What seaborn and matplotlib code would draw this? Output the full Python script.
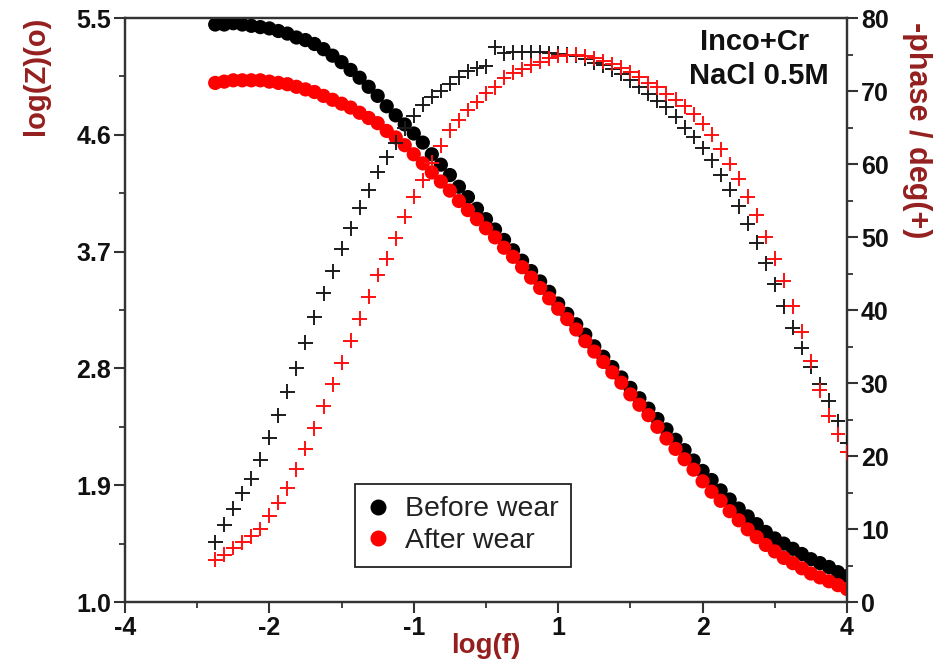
import matplotlib
matplotlib.use("Agg")
import matplotlib.pyplot as plt
from matplotlib.lines import Line2D
from matplotlib.ticker import FuncFormatter
import pandas as pd
import seaborn as sns

# Frequency sweep (axis units) and measured EIS response
log_f = [-3.0, -2.9, -2.8, -2.7, -2.6, -2.5, -2.4, -2.3, -2.2, -2.1,
         -2.0, -1.9, -1.8, -1.7, -1.6, -1.5, -1.4, -1.3, -1.2, -1.1,
         -1.0, -0.9, -0.8, -0.7, -0.6, -0.5, -0.4, -0.3, -0.2, -0.1,
         0.0, 0.1, 0.2, 0.3, 0.4, 0.5, 0.6, 0.7, 0.8, 0.9,
         1.0, 1.1, 1.2, 1.3, 1.4, 1.5, 1.6, 1.7, 1.8, 1.9,
         2.0, 2.1, 2.2, 2.3, 2.4, 2.5, 2.6, 2.7, 2.8, 2.9,
         3.0, 3.1, 3.2, 3.3, 3.4, 3.5, 3.6, 3.7, 3.8, 3.9, 4.0]

logz_before = [5.45, 5.45, 5.46, 5.45, 5.44, 5.43, 5.42, 5.40, 5.38, 5.35,
               5.33, 5.30, 5.26, 5.21, 5.16, 5.10, 5.04, 4.97, 4.90, 4.82,
               4.75, 4.68, 4.61, 4.54, 4.45, 4.37, 4.29, 4.20, 4.12, 4.03,
               3.95, 3.87, 3.79, 3.71, 3.63, 3.55, 3.47, 3.39, 3.30, 3.22,
               3.14, 3.06, 2.97, 2.89, 2.81, 2.73, 2.65, 2.57, 2.49, 2.41,
               2.33, 2.25, 2.17, 2.09, 2.01, 1.94, 1.86, 1.79, 1.72, 1.66,
               1.60, 1.54, 1.49, 1.45, 1.41, 1.37, 1.33, 1.30, 1.27, 1.23, 1.20]

logz_after = [5.00, 5.01, 5.02, 5.02, 5.02, 5.02, 5.01, 5.00, 4.99, 4.97,
              4.95, 4.93, 4.90, 4.87, 4.84, 4.81, 4.77, 4.73, 4.69, 4.63,
              4.58, 4.52, 4.45, 4.38, 4.31, 4.24, 4.17, 4.09, 4.02, 3.95,
              3.88, 3.81, 3.73, 3.66, 3.58, 3.50, 3.42, 3.34, 3.26, 3.18,
              3.10, 3.01, 2.93, 2.85, 2.77, 2.69, 2.60, 2.52, 2.44, 2.35,
              2.26, 2.18, 2.10, 2.02, 1.93, 1.85, 1.78, 1.70, 1.63, 1.56,
              1.50, 1.44, 1.39, 1.34, 1.30, 1.26, 1.22, 1.19, 1.16, 1.13, 1.10]

phase_before = [8.2, 10.6, 12.8, 14.9, 16.9, 19.5, 22.5, 25.6, 28.8, 32.0,
                35.5, 39.0, 42.3, 45.3, 48.4, 51.2, 54.0, 56.4, 58.9, 60.9,
                62.9, 64.9, 66.6, 68.1, 69.2, 70.0, 71.0, 71.9, 72.7, 73.1,
                73.4, 76.0, 75.2, 75.3, 75.3, 75.3, 75.3, 75.2, 75.1, 75.0,
                74.8, 74.4, 73.9, 73.5, 73.0, 72.4, 71.5, 70.6, 69.6, 68.7,
                67.8, 66.5, 65.0, 63.7, 62.2, 60.5, 58.5, 56.5, 54.2, 51.8,
                49.2, 46.4, 43.5, 40.5, 37.6, 34.8, 32.2, 29.8, 27.6, 24.8, 21.8]

phase_after = [5.8, 6.5, 7.4, 8.2, 9.0, 10.0, 11.8, 13.6, 15.6, 18.2,
               21.0, 23.8, 26.8, 29.8, 32.8, 35.8, 38.8, 41.8, 44.8, 47.0,
               49.8, 52.8, 55.5, 57.8, 60.2, 62.5, 64.6, 66.0, 67.4, 68.5,
               69.7, 70.5, 71.8, 72.5, 73.0, 73.5, 74.0, 74.5, 74.8, 74.9,
               75.0, 74.8, 74.5, 74.1, 73.7, 73.2, 72.6, 71.9, 71.1, 70.5,
               69.6, 68.8, 67.9, 66.8, 65.5, 64.0, 62.0, 60.0, 58.0, 55.5,
               53.0, 50.0, 47.0, 44.0, 40.5, 37.0, 33.0, 29.0, 25.5, 23.0, 20.5]

samples = ["Before wear", "After wear"]
x_ticks = [-4.0, -2.4, -0.8, 0.8, 2.4, 4.0]
x_minor = [-3.2, -1.6, 0.0, 1.6, 3.2]
z_ticks = [1.0, 1.9, 2.8, 3.7, 4.6, 5.5]
z_minor = [1.45, 2.35, 3.25, 4.15, 5.05]
p_ticks = [0, 10, 20, 30, 40, 50, 60, 70, 80]
p_minor = [5, 15, 25, 35, 45, 55, 65, 75]

df = pd.DataFrame({
    "log_f": log_f * 2,
    "logZ": logz_before + logz_after,
    "phase": phase_before + phase_after,
    "sample": [samples[0]] * len(log_f) + [samples[1]] * len(log_f),
})

sns.set_theme(style="white")
plt.rcParams["font.family"] = ["Liberation Sans", "DejaVu Sans"]
plt.rcParams["axes.unicode_minus"] = False

label_red = "#951f1f"
axis_col = "#333333"
dot_pal = {"Before wear": "black", "After wear": "#ff0000"}
plus_pal = {"Before wear": "#1c1c1c", "After wear": "#ff1010"}

fig = plt.figure(figsize=(9.41, 6.65), dpi=100)
ax = fig.add_axes([0.1328, 0.0947, 0.7673, 0.8782])
ax2 = ax.twinx()

sns.scatterplot(data=df, x="log_f", y="logZ", hue="sample", hue_order=samples,
                palette=dot_pal, s=105, linewidth=0, legend=False, ax=ax,
                zorder=3)
sns.scatterplot(data=df, x="log_f", y="phase", hue="sample", hue_order=samples,
                palette=plus_pal, marker="+", s=115, linewidth=1.4,
                legend=False, ax=ax2, zorder=3)

ax.set_xlim(-4, 4)
ax.set_ylim(1.0, 5.5)
ax2.set_ylim(0, 80)

ax.set_xticks(x_ticks)
ax.set_xticks(x_minor, minor=True)
ax.xaxis.set_major_formatter(FuncFormatter(lambda v, p: f"{v:.0f}"))
ax.set_yticks(z_ticks)
ax.set_yticks(z_minor, minor=True)
ax.yaxis.set_major_formatter(FuncFormatter(lambda v, p: f"{v:.1f}"))
ax2.set_yticks(p_ticks)
ax2.set_yticks(p_minor, minor=True)

for a in (ax, ax2):
    for sp in a.spines.values():
        sp.set_color(axis_col)
        sp.set_linewidth(1.6)
    a.tick_params(which="major", direction="out", length=8, width=1.5,
                  color=axis_col, labelsize=18, pad=2)
    a.tick_params(which="minor", direction="out", length=4, width=1.3,
                  color=axis_col)
ax.tick_params(axis="y", which="both", left=True, right=False)
ax.tick_params(axis="x", which="both", bottom=True, top=False)
ax2.tick_params(axis="y", which="both", right=True, left=False)
ax.grid(False)
ax2.grid(False)

for lbl in ax.get_xticklabels() + ax.get_yticklabels() + ax2.get_yticklabels():
    lbl.set_fontweight("bold")
    lbl.set_color("#111111")

ax.set_xlabel("log(f)", fontsize=20, fontweight="bold", color=label_red,
              labelpad=-5)
ax.set_ylabel("log(Z)(o)", fontsize=21, fontweight="bold", color=label_red)
ax.yaxis.label.set_ha("right")
ax.yaxis.label.set_va("center")
ax.yaxis.set_label_coords(-0.123, 1.003)

ax2.set_ylabel("-phase / deg(+)", fontsize=22, fontweight="bold",
               color=label_red, rotation=270)
ax2.yaxis.label.set_rotation_mode("anchor")
ax2.yaxis.label.set_ha("left")
ax2.yaxis.label.set_va("center")
ax2.yaxis.set_label_coords(1.097, 0.993)

ax2.text(0.872, 0.983, "Inco+Cr", transform=ax.transAxes, ha="center",
         va="top", fontsize=21, fontweight="bold", color="#111111")
ax2.text(0.878, 0.925, "NaCl 0.5M", transform=ax.transAxes, ha="center",
         va="top", fontsize=21, fontweight="bold", color="#111111")

handles = [Line2D([], [], linestyle="none", marker="o", markersize=10.5,
                  markerfacecolor=dot_pal[s], markeredgecolor=dot_pal[s])
           for s in samples]
leg = ax2.legend(handles, samples, loc="lower left",
                 bbox_to_anchor=(0.3186, 0.060), borderaxespad=0,
                 fontsize=20.5, frameon=True, fancybox=False, framealpha=1,
                 edgecolor="#222222", handlelength=0.7, handletextpad=0.6,
                 labelspacing=0.2, borderpad=0.45)
leg.get_frame().set_linewidth(1.3)
for t in leg.get_texts():
    t.set_color("#222222")

fig.savefig("out.png", dpi=100)
